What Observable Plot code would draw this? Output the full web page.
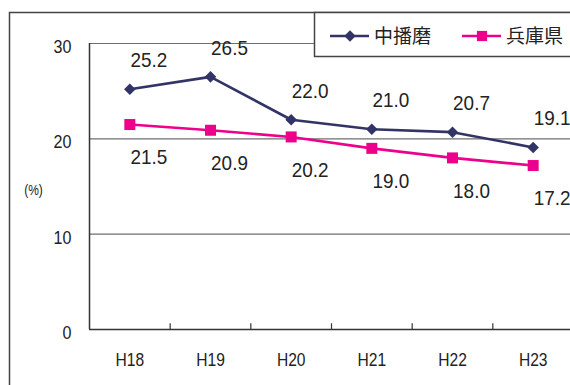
<!DOCTYPE html>
<html>
<head>
<meta charset="utf-8">
<script src="https://cdn.jsdelivr.net/npm/d3@7"></script>
<script src="https://cdn.jsdelivr.net/npm/@observablehq/plot@0.6"></script>
<style>
  html, body { margin: 0; padding: 0; background: #fff; overflow: hidden; }
  #chart svg { display: block; overflow: hidden; }
</style>
</head>
<body>
<div id="chart"></div>
<script>
// 年度（平成）
const years = ["H18", "H19", "H20", "H21", "H22", "H23"];
// 中播磨と兵庫県の値（%）
const nakaharima = [25.2, 26.5, 22.0, 21.0, 20.7, 19.1];
const hyogo = [21.5, 20.9, 20.2, 19.0, 18.0, 17.2];
const seriesNames = ["中播磨", "兵庫県"];
const seriesColors = ["#323465", "#ec008c"];
const yTicks = [0, 10, 20, 30];
const gridTicks = [10, 20, 30];
const unitLabel = "(%)";

const W = 570, H = 385;
const numFont = "'Liberation Sans', Arial, sans-serif";
const cjkFont = "'Noto Sans CJK JP', sans-serif";

const rows = [
  ...years.map((year, i) => ({i, year, value: nakaharima[i], series: seriesNames[0]})),
  ...years.map((year, i) => ({i, year, value: hyogo[i], series: seriesNames[1]}))
];
const rowsA = rows.filter(d => d.series === seriesNames[0]);
const rowsB = rows.filter(d => d.series === seriesNames[1]);

const xDomain = [-0.5, years.length - 0.5];
const boundaries = d3.range(1, years.length).map(i => i - 0.5);

const plot = Plot.plot({
  width: W,
  height: H,
  marginLeft: 89,
  marginRight: -3,
  marginTop: 43,
  marginBottom: 56,
  style: {background: "#fff", fontFamily: numFont},
  x: {domain: xDomain, axis: null},
  y: {domain: [0, 30], axis: null},
  color: {domain: seriesNames, range: seriesColors},
  marks: [
    // 横グリッド
    Plot.ruleY(gridTicks, {y: d => d, x1: xDomain[0], x2: xDomain[1], stroke: "#6e6e6e", strokeWidth: 1.2}),
    // 軸線
    Plot.ruleY([0], {x1: xDomain[0], x2: xDomain[1], stroke: "#333", strokeWidth: 1.5}),
    Plot.ruleX([xDomain[0]], {y1: 0, y2: 30, stroke: "#333", strokeWidth: 1.5}),
    // 年度の区切り目盛
    Plot.ruleX(boundaries, {x: d => d, y1: 0, y2: 0.6, stroke: "#333", strokeWidth: 1.2}),
    // 目盛ラベル
    Plot.axisY(yTicks, {label: null, tickSize: 0, tickPadding: 18, fontSize: 17.5, dy: 4, fill: "#222", fontFamily: numFont}),
    Plot.axisX(d3.range(years.length), {label: null, tickSize: 0, tickPadding: 23, fontSize: 19, fill: "#222", fontFamily: numFont, tickFormat: i => years[i]}),
    Plot.text([unitLabel], {x: xDomain[0], y: 14.6, dx: -56, fontSize: 15, fill: "#222", fontFamily: numFont}),
    // 折れ線
    Plot.line(rowsA, {x: "i", y: "value", stroke: "series", strokeWidth: 2.6}),
    Plot.line(rowsB, {x: "i", y: "value", stroke: "series", strokeWidth: 2.6}),
    Plot.dot(rowsA, {x: "i", y: "value", fill: "series", symbol: "diamond2", r: 5.2, stroke: null}),
    Plot.dot(rowsB, {x: "i", y: "value", fill: "series", symbol: "square2", r: 7, stroke: null}),
    // 値ラベル
    Plot.text(rowsA, {x: "i", y: "value", text: d => d.value.toFixed(1), dx: 19, dy: -29, fontSize: 21, fill: "#222", fontFamily: numFont}),
    Plot.text(rowsB, {x: "i", y: "value", text: d => d.value.toFixed(1), dx: 19, dy: 33, fontSize: 21, fill: "#222", fontFamily: numFont})
  ]
});

document.getElementById("chart").appendChild(plot);

const svg = d3.select(plot);
const color = plot.scale("color");

// 長体（横方向に詰めた数字）
function condense(selection, ratio) {
  selection.each(function() {
    const len = this.getComputedTextLength();
    this.setAttribute("textLength", (len * ratio).toFixed(2));
    this.setAttribute("lengthAdjust", "spacingAndGlyphs");
  });
}
condense(svg.selectAll("g[aria-label='text'] text").filter(function() { return this.textContent !== unitLabel; }), 0.9);
condense(svg.selectAll("g[aria-label='x-axis tick label'] text"), 0.82);
condense(svg.selectAll("g[aria-label='y-axis tick label'] text"), 0.92);
condense(svg.selectAll("g[aria-label='text'] text").filter(function() { return this.textContent === unitLabel; }), 0.8);

// 外枠
svg.append("path")
  .attr("d", `M9.5,${H + 5}V12.5H${W + 5}`)
  .attr("fill", "none")
  .attr("stroke", "#444")
  .attr("stroke-width", 1.5);

// 凡例
const legend = svg.append("g").attr("text-anchor", "start");
legend.append("rect")
  .attr("x", 314.5).attr("y", 12.5).attr("width", 300).attr("height", 44)
  .attr("fill", "#fff").attr("stroke", "#444").attr("stroke-width", 1.5);
const legendItems = [
  {name: seriesNames[0], x: 330, symbol: d3.symbolDiamond2, size: Math.PI * 5.2 * 5.2},
  {name: seriesNames[1], x: 462, symbol: d3.symbolSquare2, size: Math.PI * 6.5 * 6.5}
];
for (const item of legendItems) {
  const c = color.apply(item.name);
  legend.append("line")
    .attr("x1", item.x).attr("x2", item.x + 39).attr("y1", 36).attr("y2", 36)
    .attr("stroke", c).attr("stroke-width", 2.6);
  legend.append("path")
    .attr("transform", `translate(${item.x + 20},36)`)
    .attr("d", d3.symbol(item.symbol, item.size)())
    .attr("fill", c);
  legend.append("text")
    .attr("x", item.x + 44).attr("y", 36).attr("dy", "0.36em")
    .attr("text-anchor", "start")
    .attr("font-family", cjkFont).attr("font-size", 19).attr("fill", "#222")
    .text(item.name);
}
</script>
</body>
</html>
